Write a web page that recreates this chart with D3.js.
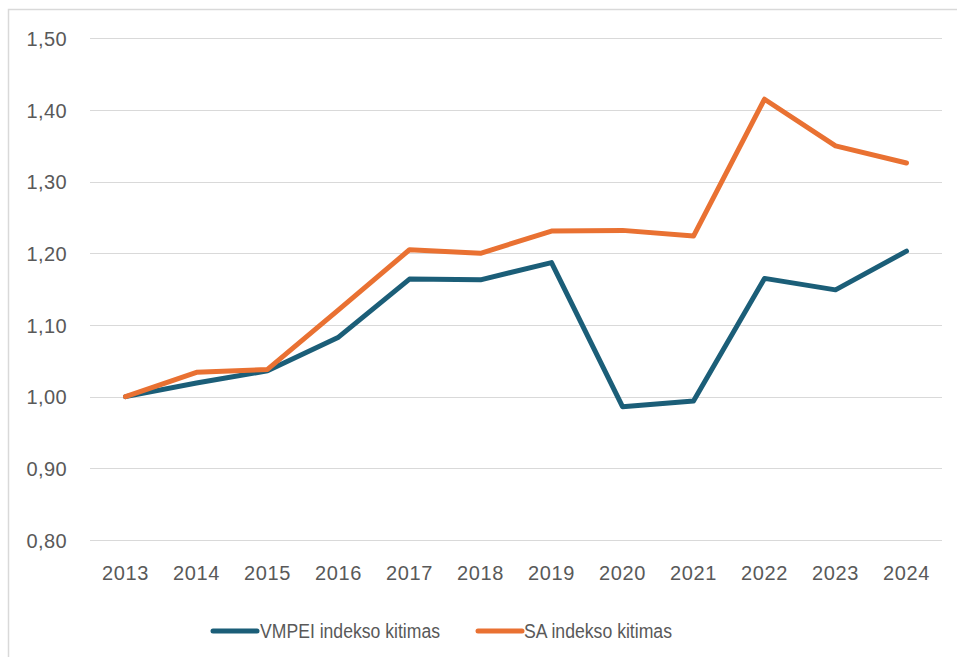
<!DOCTYPE html>
<html>
<head>
<meta charset="utf-8">
<script src="https://cdn.jsdelivr.net/npm/d3@7"></script>
<style>
  html, body { margin: 0; padding: 0; background: #fff; }
  svg { display: block; }
  text { font-family: "Liberation Sans", Arial, sans-serif; fill: #595959; }
</style>
</head>
<body>
<svg id="chart" width="957" height="657"></svg>
<script>
// Index series, 2013 = 1.00
const years = ["2013","2014","2015","2016","2017","2018","2019","2020","2021","2022","2023","2024"];
const vmpei = [1.00, 1.019, 1.036, 1.083, 1.164, 1.163, 1.187, 0.986, 0.994, 1.165, 1.149, 1.203];
const sa    = [1.00, 1.034, 1.038, 1.121, 1.205, 1.200, 1.231, 1.232, 1.224, 1.415, 1.350, 1.326];
const yTicks = [0.80, 0.90, 1.00, 1.10, 1.20, 1.30, 1.40, 1.50];
const seriesNames = ["VMPEI indekso kitimas", "SA indekso kitimas"];
const seriesColors = ["#1b5e78", "#e97132"];

const svg = d3.select("#chart");
const W = 957, H = 657;

// chart frame (top and left edges visible)
svg.append("path")
  .attr("d", `M8.5,${H} L8.5,9.5 L${W},9.5`)
  .attr("fill", "none")
  .attr("stroke", "#d9d9d9")
  .attr("stroke-width", 1.5);

const plot = { left: 90, right: 942, top: 38.3, bottom: 540 };

const x = d3.scaleBand().domain(years).range([plot.left, plot.right]);
const y = d3.scaleLinear().domain([0.8, 1.5]).range([plot.bottom, plot.top]);

// horizontal gridlines
svg.append("g")
  .selectAll("line")
  .data(yTicks)
  .join("line")
  .attr("x1", plot.left).attr("x2", plot.right)
  .attr("y1", d => Math.round(y(d)) + 0.5).attr("y2", d => Math.round(y(d)) + 0.5)
  .attr("stroke", "#d9d9d9")
  .attr("stroke-width", 1);

// y axis labels
const fmt = d => d.toFixed(2).replace(".", ",");
const yAxis = d3.axisLeft(y).tickValues(yTicks).tickFormat(fmt).tickSize(0).tickPadding(0);
const gy = svg.append("g").attr("transform", "translate(67,0)").call(yAxis);
gy.select(".domain").remove();
gy.selectAll("text")
  .attr("font-size", 20)
  .attr("letter-spacing", "0.4px")
  .attr("dy", "0.36em")
  .style("font-family", "'Liberation Sans', Arial, sans-serif")
  .attr("fill", "#595959");

// x axis labels
const xAxis = d3.axisBottom(x).tickSize(0).tickPadding(0);
const gx = svg.append("g").attr("transform", "translate(0,579.5)").call(xAxis);
gx.select(".domain").remove();
gx.selectAll("text")
  .attr("font-size", 20)
  .attr("letter-spacing", "0.6px")
  .attr("dy", 0)
  .attr("y", 0)
  .style("font-family", "'Liberation Sans', Arial, sans-serif")
  .attr("fill", "#595959");

// lines
const line = d3.line()
  .x((d, i) => x(years[i]) + x.bandwidth() / 2)
  .y(d => y(d));

[vmpei, sa].forEach((vals, k) => {
  svg.append("path")
    .datum(vals)
    .attr("d", line)
    .attr("fill", "none")
    .attr("stroke", seriesColors[k])
    .attr("stroke-width", 5)
    .attr("stroke-linejoin", "round")
    .attr("stroke-linecap", "round");
});

// legend
const legendItems = [
  { x0: 213, x1: 257, tx: 260, tw: 180 },
  { x0: 478, x1: 522, tx: 524, tw: 148 }
];
const lg = svg.append("g");
legendItems.forEach((it, k) => {
  lg.append("line")
    .attr("x1", it.x0).attr("x2", it.x1)
    .attr("y1", 631).attr("y2", 631)
    .attr("stroke", seriesColors[k])
    .attr("stroke-width", 5)
    .attr("stroke-linecap", "round");
  lg.append("text")
    .attr("x", it.tx).attr("y", 638)
    .attr("font-size", 20)
    .attr("textLength", it.tw)
    .attr("lengthAdjust", "spacingAndGlyphs")
    .text(seriesNames[k]);
});
</script>
</body>
</html>
